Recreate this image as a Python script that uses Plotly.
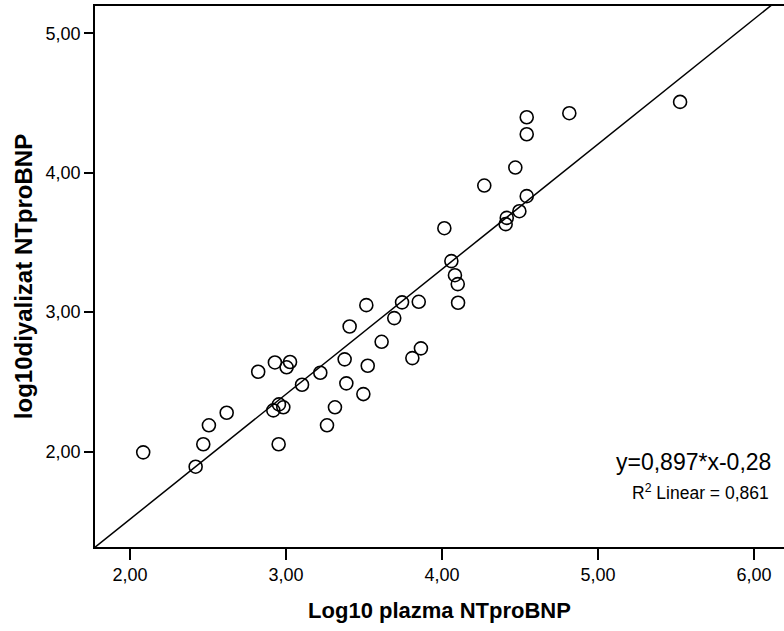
import plotly.graph_objects as go

# Data (log10 plasma vs log10 dialysate NTproBNP)
plazma = [2.085, 2.421, 2.470, 2.506, 2.620, 2.822, 2.929, 3.026, 3.004, 2.919,
          2.955, 2.983, 2.953, 3.103, 3.220, 3.263, 3.314, 3.376, 3.387, 3.408,
          3.515, 3.496, 3.524, 3.613, 3.694, 3.744, 3.851, 3.810, 3.865,
          5.526, 4.816, 4.543, 4.543, 4.470, 4.271, 4.543, 4.496, 4.415, 4.408,
          4.015, 4.060, 4.083, 4.101, 4.103]
diyalizat = [1.994, 1.891, 2.052, 2.188, 2.278, 2.572, 2.639, 2.642, 2.604, 2.295,
             2.338, 2.317, 2.052, 2.479, 2.565, 2.188, 2.317, 2.661, 2.489, 2.897,
             3.050, 2.412, 2.615, 2.787, 2.957, 3.070, 3.074, 2.670, 2.740,
             4.508, 4.427, 4.398, 4.276, 4.037, 3.908, 3.832, 3.724, 3.676, 3.631,
             3.602, 3.366, 3.265, 3.201, 3.067]

slope = 0.897
intercept = -0.28
x_range = [1.776, 6.192]
y_range = [1.315, 5.196]
x_ticks = [2, 3, 4, 5, 6]
y_ticks = [2, 3, 4, 5]
eq_text = "y=0,897*x-0,28"
r2_text = "R<sup>2</sup> Linear = 0,861"
x_title = "Log10 plazma NTproBNP"
y_title = "log10diyalizat NTproBNP"

FONT = "Arial, 'Liberation Sans', sans-serif"

fit_x = list(x_range)
fit_y = [slope * v + intercept for v in fit_x]

fig = go.Figure()
fig.add_trace(go.Scatter(
    x=fit_x, y=fit_y, mode="lines",
    line=dict(color="black", width=1.5),
    hoverinfo="skip", showlegend=False))
fig.add_trace(go.Scatter(
    x=plazma, y=diyalizat, mode="markers",
    marker=dict(symbol="circle-open", size=13, color="black",
                line=dict(color="black", width=1.6)),
    showlegend=False))

fig.update_layout(
    width=784, height=631,
    margin=dict(l=95, r=0, t=6, b=84),
    paper_bgcolor="white", plot_bgcolor="white",
    separators=",.",
    font=dict(family=FONT, color="black", size=18),
    xaxis=dict(
        range=x_range, tickvals=x_ticks, tickformat=".2f",
        showgrid=False, zeroline=False,
        showline=True, linecolor="black", linewidth=1.5, mirror=True,
        ticks="outside", ticklen=11, tickwidth=2, tickcolor="black",
        tickfont=dict(size=18, family=FONT),
        title=dict(text=x_title, font=dict(size=22, family=FONT, weight="bold"),
                   standoff=18),
        automargin=False),
    yaxis=dict(
        range=y_range, tickvals=y_ticks, tickformat=".2f",
        showgrid=False, zeroline=False,
        showline=True, linecolor="black", linewidth=1.5,
        ticks="outside", ticklen=9, tickwidth=2, tickcolor="black",
        tickfont=dict(size=18, family=FONT),
        title=dict(text=y_title, font=dict(size=24, family=FONT, weight="bold"),
                   standoff=6),
        automargin=False),
    annotations=[
        dict(text=eq_text, xref="paper", yref="paper", x=0.984, y=0.157,
             xanchor="right", yanchor="middle", showarrow=False,
             font=dict(size=23, family=FONT, color="black")),
        dict(text=r2_text, xref="paper", yref="paper", x=0.981, y=0.102,
             xanchor="right", yanchor="middle", showarrow=False,
             font=dict(size=17.5, family=FONT, color="black")),
    ],
)

fig.write_html(
    "out.html",
    config={"displayModeBar": False},
    post_script="document.body.style.margin='0';document.body.style.overflow='hidden';")
